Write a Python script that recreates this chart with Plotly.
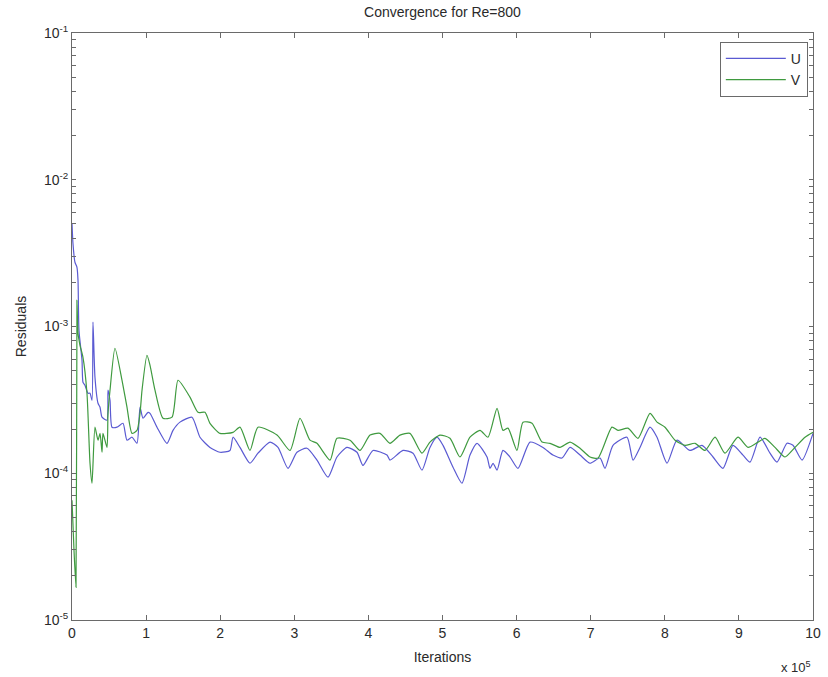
import plotly.graph_objects as go

# Iterations in units of 1e5
u_iter = [0.00, 0.013, 0.040, 0.067, 0.081, 0.094, 0.135, 0.148, 0.175, 0.216, 0.243, 0.270, 0.283, 0.310,
          0.351, 0.378, 0.405, 0.472, 0.486, 0.513, 0.540, 0.607, 0.688, 0.742, 0.810, 0.877, 0.918, 0.958,
          1.026, 1.053, 1.147, 1.282, 1.363, 1.457, 1.619, 1.727, 1.862, 1.997, 2.132, 2.173, 2.267, 2.402,
          2.510, 2.672, 2.780, 2.915, 3.036, 3.171, 3.306, 3.455, 3.576, 3.711, 3.846, 3.927, 4.062, 4.251,
          4.291, 4.467, 4.602, 4.723, 4.831, 4.926, 5.007, 5.142, 5.263, 5.371, 5.466, 5.601, 5.641, 5.682,
          5.736, 5.816, 5.911, 6.019, 6.181, 6.356, 6.491, 6.613, 6.721, 6.856, 6.991, 7.126, 7.193, 7.301,
          7.490, 7.571, 7.665, 7.800, 7.895, 8.030, 8.165, 8.340, 8.502, 8.651, 8.785, 8.920, 9.055, 9.150,
          9.285, 9.420, 9.514, 9.649, 9.730, 9.852, 10.0]
u_res = [5.05e-3, 3.69e-3, 2.74e-3, 2.53e-3, 2.07e-3, 9.43e-4, 5.89e-4, 4.17e-4, 3.98e-4, 3.51e-4, 3.51e-4,
         3.14e-4, 1.07e-3, 4.51e-4, 3.00e-4, 2.82e-4, 2.41e-4, 2.30e-4, 3.68e-4, 3.14e-4, 2.06e-4, 2.06e-4,
         2.19e-4, 1.68e-4, 1.76e-4, 1.60e-4, 2.82e-4, 2.37e-4, 2.60e-4, 2.56e-4, 2.06e-4, 1.60e-4, 1.96e-4,
         2.23e-4, 2.41e-4, 1.76e-4, 1.50e-4, 1.39e-4, 1.43e-4, 1.76e-4, 1.50e-4, 1.17e-4, 1.37e-4, 1.63e-4,
         1.50e-4, 1.08e-4, 1.39e-4, 1.48e-4, 1.23e-4, 0.94e-4, 1.29e-4, 1.50e-4, 1.39e-4, 1.13e-4, 1.43e-4,
         1.33e-4, 1.23e-4, 1.43e-4, 1.37e-4, 1.05e-4, 1.50e-4, 1.76e-4, 1.55e-4, 1.10e-4, 0.855e-4, 1.33e-4,
         1.60e-4, 1.29e-4, 1.08e-4, 1.17e-4, 1.05e-4, 1.43e-4, 1.29e-4, 1.08e-4, 1.63e-4, 1.50e-4, 1.33e-4,
         1.27e-4, 1.50e-4, 1.33e-4, 1.17e-4, 1.27e-4, 1.08e-4, 1.55e-4, 1.76e-4, 1.23e-4, 1.50e-4, 2.06e-4,
         1.76e-4, 1.17e-4, 1.68e-4, 1.43e-4, 1.55e-4, 1.29e-4, 1.08e-4, 1.55e-4, 1.33e-4, 1.19e-4, 1.76e-4,
         1.37e-4, 1.19e-4, 1.60e-4, 1.55e-4, 1.23e-4, 1.87e-4]

v_iter = [0.00, 0.027, 0.054, 0.067, 0.081, 0.108, 0.148, 0.202, 0.243, 0.270, 0.310, 0.351, 0.378, 0.405,
          0.418, 0.472, 0.486, 0.513, 0.580, 0.675, 0.742, 0.810, 0.877, 0.918, 0.945, 1.012, 1.053, 1.120,
          1.228, 1.350, 1.431, 1.592, 1.700, 1.795, 1.862, 1.997, 2.173, 2.267, 2.402, 2.510, 2.767, 2.942,
          3.077, 3.212, 3.306, 3.482, 3.576, 3.752, 3.887, 4.022, 4.157, 4.291, 4.426, 4.561, 4.723, 4.831,
          4.966, 5.101, 5.236, 5.371, 5.506, 5.614, 5.736, 5.816, 5.884, 6.005, 6.086, 6.208, 6.343, 6.451,
          6.586, 6.721, 6.856, 6.991, 7.099, 7.287, 7.368, 7.503, 7.638, 7.800, 7.895, 8.003, 8.138, 8.273,
          8.408, 8.543, 8.678, 8.812, 8.988, 9.123, 9.258, 9.352, 9.487, 9.622, 9.757, 9.892, 10.0]
v_res = [0.655e-4, 0.299e-4, 0.167e-4, 1.51e-3, 9.0e-4, 7.45e-4, 6.17e-4, 3.51e-4, 1.17e-4, 0.855e-4, 2.06e-4,
         1.68e-4, 1.87e-4, 1.39e-4, 1.87e-4, 1.50e-4, 2.56e-4, 3.68e-4, 7.11e-4, 4.30e-4, 2.82e-4, 1.87e-4,
         1.96e-4, 2.56e-4, 3.68e-4, 6.37e-4, 5.44e-4, 3.68e-4, 2.37e-4, 2.41e-4, 4.30e-4, 3.30e-4, 2.60e-4,
         2.60e-4, 2.19e-4, 1.87e-4, 1.90e-4, 2.06e-4, 1.43e-4, 2.06e-4, 1.82e-4, 1.43e-4, 2.37e-4, 1.68e-4,
         1.60e-4, 1.23e-4, 1.73e-4, 1.68e-4, 1.43e-4, 1.82e-4, 1.87e-4, 1.60e-4, 1.82e-4, 1.87e-4, 1.37e-4,
         1.63e-4, 1.82e-4, 1.73e-4, 1.29e-4, 1.76e-4, 1.96e-4, 1.76e-4, 2.77e-4, 1.96e-4, 2.03e-4, 1.43e-4,
         2.23e-4, 2.19e-4, 1.63e-4, 1.60e-4, 1.50e-4, 1.63e-4, 1.48e-4, 1.29e-4, 1.27e-4, 2.06e-4, 1.96e-4,
         2.03e-4, 1.73e-4, 2.56e-4, 2.23e-4, 2.06e-4, 1.68e-4, 1.55e-4, 1.60e-4, 1.43e-4, 1.76e-4, 1.37e-4,
         1.76e-4, 1.50e-4, 1.63e-4, 1.73e-4, 1.50e-4, 1.29e-4, 1.50e-4, 1.76e-4, 1.90e-4]

x_ticks = [0, 1, 2, 3, 4, 5, 6, 7, 8, 9, 10]
y_decades = [1e-5, 1e-4, 1e-3, 1e-2, 1e-1]
y_decade_labels = ["10<sup>-5</sup>", "10<sup>-4</sup>", "10<sup>-3</sup>", "10<sup>-2</sup>", "10<sup>-1</sup>"]
y_log_range = [-5, -1]

# all tick positions: decades (labelled) plus 2..9 within each decade (unlabelled)
y_tick_vals = []
y_tick_text = []
for d, lab in zip(y_decades, y_decade_labels):
    y_tick_vals.append(d)
    y_tick_text.append(lab)
    if d < 1e-1:
        for m in range(2, 10):
            y_tick_vals.append(m * d)
            y_tick_text.append("")

font_family = "Liberation Sans, Arial, sans-serif"
axis_col = "#6a6a6a"
text_col = "#2a2a2a"

fig = go.Figure()
fig.add_trace(go.Scatter(x=u_iter, y=u_res, mode="lines", name="U",
                         line=dict(color="#5a5ad2", width=1.2, shape="spline", smoothing=0.6)))
fig.add_trace(go.Scatter(x=v_iter, y=v_res, mode="lines", name="V",
                         line=dict(color="#3f9a3f", width=1.2, shape="spline", smoothing=0.6)))

fig.update_layout(
    width=828, height=677,
    margin=dict(l=72, r=15, t=33, b=57),
    paper_bgcolor="white", plot_bgcolor="white",
    font=dict(family=font_family, size=13, color=text_col),
    title=dict(text="Convergence for Re=800", x=0.5, xref="paper", xanchor="center",
               y=1 - 12 / 677, yanchor="middle", font=dict(size=14, color=text_col)),
    legend=dict(x=0.993, y=0.985, xanchor="right", yanchor="top",
                bordercolor=axis_col, borderwidth=1, bgcolor="white",
                font=dict(size=14, color=text_col), itemwidth=60, tracegroupgap=0),
    showlegend=True,
)

fig.update_xaxes(range=[0, 10], tickvals=x_ticks, ticks="inside", ticklen=5, tickcolor=axis_col,
                 showline=True, linecolor=axis_col, linewidth=1, mirror="ticks", showgrid=False,
                 zeroline=False, tickfont=dict(size=14, color=text_col), automargin=False,
                 title=dict(text="Iterations", standoff=12, font=dict(size=14, color=text_col)))
fig.update_yaxes(type="log", range=y_log_range, tickmode="array", tickvals=y_tick_vals,
                 ticktext=y_tick_text, ticks="inside", ticklen=4, tickcolor=axis_col,
                 showline=True, linecolor=axis_col, linewidth=1, mirror="ticks", showgrid=False,
                 zeroline=False, tickfont=dict(size=14, color=text_col), automargin=False,
                 title=dict(text="Residuals", standoff=14, font=dict(size=14, color=text_col)))

fig.add_annotation(text="x 10<sup>5</sup>", xref="paper", yref="paper", x=1.0, y=-0.08,
                   xanchor="right", yanchor="middle", showarrow=False,
                   font=dict(size=13, color=text_col))

fig.write_html("out.html", config={"displayModeBar": False},
               post_script="document.body.style.margin='0';document.body.style.overflow='hidden';")
